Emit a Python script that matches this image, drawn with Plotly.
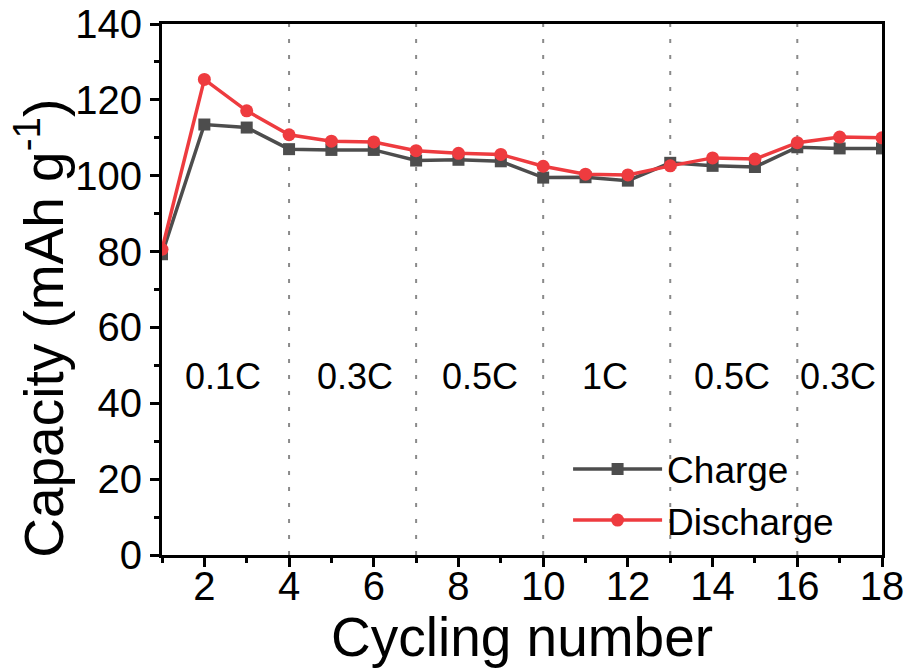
import plotly.graph_objects as go

cycles = list(range(1, 19))
charge = [79.3, 113.5, 112.7, 107.0, 106.8, 106.8, 104.0, 104.2, 103.8, 99.5,
          99.6, 98.7, 103.4, 102.6, 102.3, 107.5, 107.2, 107.2]
discharge = [80.6, 125.4, 117.1, 110.8, 109.1, 108.9, 106.6, 105.9, 105.6, 102.5,
             100.4, 100.2, 102.6, 104.7, 104.4, 108.7, 110.2, 110.0]

rate_boundaries = [4, 7, 10, 13, 16]
rate_labels = ["0.1C", "0.3C", "0.5C", "1C", "0.5C", "0.3C"]
rate_label_x = [2.45, 5.55, 8.5, 11.45, 14.45, 16.95]
rate_label_y = 47

FONT = "Liberation Sans, Arial, sans-serif"
C_CHARGE = "#4d4d4d"
C_DIS = "#ee3b3f"

fig = go.Figure()
fig.add_trace(go.Scatter(
    x=cycles, y=charge, mode="lines+markers", name="Charge",
    line=dict(color=C_CHARGE, width=3.5),
    marker=dict(symbol="square", size=12, color=C_CHARGE),
))
fig.add_trace(go.Scatter(
    x=cycles, y=discharge, mode="lines+markers", name="Discharge",
    line=dict(color=C_DIS, width=3.5),
    marker=dict(symbol="circle", size=13, color=C_DIS),
))

for b in rate_boundaries:
    fig.add_shape(type="line", x0=b, x1=b, y0=0, y1=1, xref="x", yref="paper",
                  line=dict(color="#8a8a8a", width=2, dash="4px,12px"), layer="below")

for lx, lt in zip(rate_label_x, rate_labels):
    fig.add_annotation(x=lx, y=rate_label_y, text=lt, showarrow=False,
                       font=dict(size=36, color="black", family=FONT))

fig.add_annotation(x=-0.1694, y=0.426, xref="paper", yref="paper",
                   xanchor="center", yanchor="middle",
                   text="Capacity (mAh g<sup>-1</sup>)", textangle=-90, showarrow=False,
                   font=dict(size=55, color="black", family=FONT))

fig.add_annotation(x=0.5, y=-0.1544, xref="paper", yref="paper",
                   xanchor="center", yanchor="middle",
                   text="Cycling number", showarrow=False,
                   font=dict(size=55, color="black", family=FONT))

fig.update_layout(
    width=904, height=672,
    margin=dict(l=162, r=22, t=24, b=117),
    paper_bgcolor="white", plot_bgcolor="white",
    font=dict(family=FONT, color="black"),
    showlegend=True,
    legend=dict(x=0.564, y=0.2195, xanchor="left", yanchor="top",
                bgcolor="rgba(0,0,0,0)", font=dict(size=37, family=FONT),
                itemwidth=89, tracegroupgap=0),
)
fig.update_xaxes(
    range=[1, 18], tick0=0, dtick=2, ticks="outside", ticklen=9, tickwidth=2.5,
    tickcolor="black", showline=True, linewidth=3, linecolor="black", mirror=True,
    showgrid=False, zeroline=False, tickfont=dict(size=40, family=FONT),
    automargin=False, ticklabeloverflow="allow", ticklabelstandoff=-15,
    minor=dict(tick0=1, dtick=1, ticks="outside", ticklen=5, tickwidth=2.5, tickcolor="black", showgrid=False),
)
fig.update_yaxes(
    range=[0, 140], tick0=0, dtick=20, ticks="outside", ticklen=9, tickwidth=2.5,
    tickcolor="black", showline=True, linewidth=3, linecolor="black", mirror=True,
    showgrid=False, zeroline=False, tickfont=dict(size=40, family=FONT),
    automargin=False, ticklabeloverflow="allow",
    minor=dict(tick0=0, dtick=10, ticks="outside", ticklen=5, tickwidth=2.5, tickcolor="black", showgrid=False),
)

fig.write_html("out.html", config={"displayModeBar": False},
               post_script="document.body.style.margin='0';document.body.style.overflow='hidden';")
